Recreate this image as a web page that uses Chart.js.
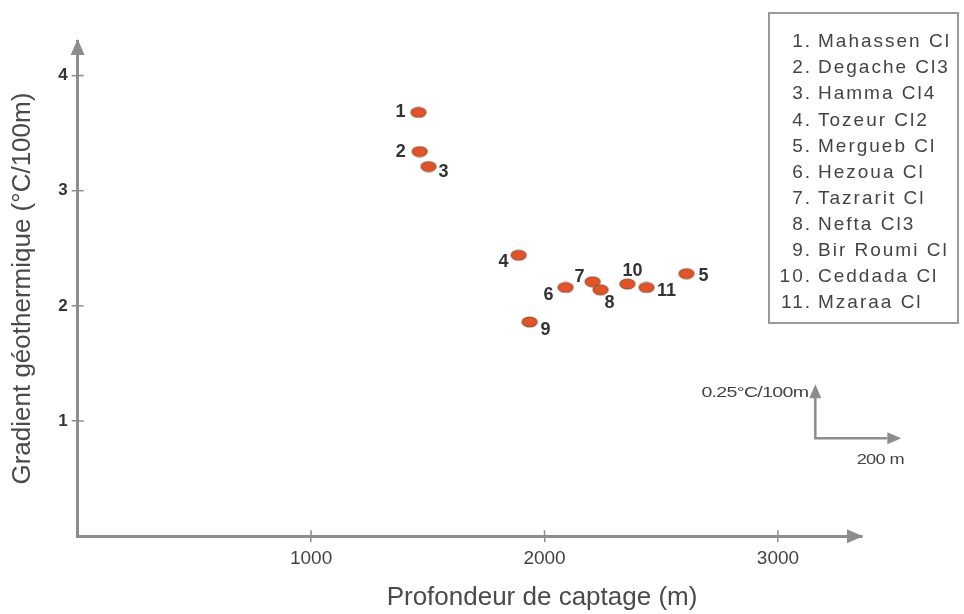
<!DOCTYPE html>
<html>
<head>
<meta charset="utf-8">
<script src="https://cdn.jsdelivr.net/npm/chart.js@4"></script>
<style>
  html, body { margin: 0; padding: 0; background: #fff; }
  #wrap { width: 964px; height: 614px; position: relative; }
</style>
</head>
<body>
<div id="wrap"><canvas id="chart"></canvas></div>
<script>
// Forages : profondeur de captage (m) et gradient géothermique (°C/100m)
const wellNumbers = ['1', '2', '3', '4', '5', '6', '7', '8', '9', '10', '11'];
const wellNames = ['Mahassen Cl', 'Degache Cl3', 'Hamma Cl4', 'Tozeur Cl2', 'Mergueb Cl',
  'Hezoua Cl', 'Tazrarit Cl', 'Nefta Cl3', 'Bir Roumi Cl', 'Ceddada Cl', 'Mzaraa Cl'];
const depths = [1460, 1465, 1503, 1889, 2608, 2090, 2206, 2240, 1936, 2355, 2437];
const gradients = [3.68, 3.34, 3.21, 2.44, 2.28, 2.16, 2.21, 2.14, 1.86, 2.19, 2.16];

const xTicks = [1000, 2000, 3000];
const yTicks = [1, 2, 3, 4];

// position of each number relative to its point (px)
const labelOffsets = [[-18, 0], [-19, 0], [15, 6], [-15, 7], [17, 2], [-17, 8],
  [-13, -5], [9, 13], [16, 8], [5, -13], [20, 4]];

const axisGrey = '#8d8d8d';
const font = '"Liberation Sans", Arial, sans-serif';

// elliptic marker
const marker = document.createElement('canvas');
marker.width = 18; marker.height = 12;
(function () {
  const c = marker.getContext('2d');
  c.beginPath();
  c.ellipse(9, 6, 7.5, 4.8, 0, 0, Math.PI * 2);
  c.fillStyle = '#e4522a';
  c.fill();
  c.lineWidth = 1.2;
  c.strokeStyle = '#a0502e';
  c.stroke();
})();

function stretchedText(ctx, text, x, y, sx, align) {
  ctx.save();
  ctx.translate(x, y);
  ctx.scale(sx, 1);
  ctx.textAlign = align;
  ctx.fillText(text, 0, 0);
  ctx.restore();
}

const decorPlugin = {
  id: 'decor',
  afterDraw(chart) {
    const { ctx, chartArea: a, scales } = chart;
    ctx.save();

    // arrow heads on the axes
    ctx.fillStyle = axisGrey;
    ctx.beginPath();
    ctx.moveTo(a.left, a.top - 2);
    ctx.lineTo(a.left - 7, a.top + 14);
    ctx.lineTo(a.left + 7, a.top + 14);
    ctx.closePath();
    ctx.fill();
    ctx.beginPath();
    ctx.moveTo(a.right + 1, a.bottom);
    ctx.lineTo(a.right - 15, a.bottom - 7);
    ctx.lineTo(a.right - 15, a.bottom + 7);
    ctx.closePath();
    ctx.fill();

    // inner half of tick marks
    ctx.strokeStyle = axisGrey;
    ctx.lineWidth = 1.5;
    xTicks.forEach(v => {
      const x = scales.x.getPixelForValue(v);
      ctx.beginPath(); ctx.moveTo(x, a.bottom); ctx.lineTo(x, a.bottom - 6); ctx.stroke();
    });
    yTicks.forEach(v => {
      const y = scales.y.getPixelForValue(v);
      ctx.beginPath(); ctx.moveTo(a.left, y); ctx.lineTo(a.left + 6, y); ctx.stroke();
    });

    // x axis title (sits right of the axis centre in the original)
    ctx.font = '26px ' + font;
    ctx.fillStyle = '#4a4a4a';
    ctx.textAlign = 'center';
    ctx.textBaseline = 'middle';
    ctx.fillText('Profondeur de captage (m)', 542, 598);

    // point numbers
    ctx.font = 'bold 18px ' + font;
    ctx.fillStyle = '#333';
    const meta = chart.getDatasetMeta(0);
    meta.data.forEach((pt, i) => {
      ctx.fillText(wellNumbers[i], pt.x + labelOffsets[i][0], pt.y + labelOffsets[i][1]);
    });

    // legend box
    ctx.strokeStyle = '#9a9a9a';
    ctx.lineWidth = 2;
    ctx.strokeRect(769, 13, 189, 310);
    ctx.font = '19px ' + font;
    ctx.fillStyle = '#444';
    ctx.letterSpacing = '2px';
    wellNames.forEach((n, i) => {
      const y = 42 + i * 26.1;
      ctx.textAlign = 'right';
      ctx.fillText(wellNumbers[i] + '.', 812, y);
      ctx.textAlign = 'left';
      ctx.fillText(n, 818, y);
    });

    // scale key
    const cx = scales.x.getPixelForValue(3160);
    const cy = scales.y.getPixelForValue(0.85);
    ctx.strokeStyle = axisGrey;
    ctx.fillStyle = axisGrey;
    ctx.lineWidth = 2.5;
    ctx.beginPath();
    ctx.moveTo(cx, cy - 42); ctx.lineTo(cx, cy); ctx.lineTo(cx + 72, cy);
    ctx.stroke();
    ctx.beginPath();
    ctx.moveTo(cx, cy - 54); ctx.lineTo(cx - 6, cy - 40); ctx.lineTo(cx + 6, cy - 40);
    ctx.closePath(); ctx.fill();
    ctx.beginPath();
    ctx.moveTo(cx + 86, cy); ctx.lineTo(cx + 72, cy - 6); ctx.lineTo(cx + 72, cy + 6);
    ctx.closePath(); ctx.fill();
    ctx.font = '14px ' + font;
    ctx.fillStyle = '#444';
    ctx.letterSpacing = '-0.5px';
    stretchedText(ctx, '0.25°C/100m', cx - 7, cy - 45, 1.4, 'right');
    stretchedText(ctx, '200 m', cx + 65, cy + 22, 1.3, 'center');
    ctx.restore();
  }
};

new Chart(document.getElementById('chart'), {
  type: 'scatter',
  data: {
    datasets: [{
      data: depths.map((d, i) => ({ x: d, y: gradients[i] })),
      pointStyle: marker,
      pointRadius: 8,
      pointHoverRadius: 8
    }]
  },
  options: {
    responsive: true,
    maintainAspectRatio: false,
    animation: false,
    layout: { padding: { top: 41, right: 102, bottom: 39, left: 2 } },
    plugins: { legend: { display: false }, tooltip: { enabled: false } },
    scales: {
      x: {
        type: 'linear',
        min: 0,
        max: 3360,
        afterBuildTicks: axis => { axis.ticks = xTicks.map(v => ({ value: v })); },
        border: { display: true, color: axisGrey, width: 3 },
        grid: { drawOnChartArea: false, drawTicks: true, tickLength: 6, color: axisGrey, lineWidth: 1.5 },
        ticks: {
          padding: 5,
          color: '#444',
          font: { family: font, size: 19 },
          callback: v => String(v)
        }
      },
      y: {
        type: 'linear',
        min: 0,
        max: 4.3,
        afterBuildTicks: axis => { axis.ticks = yTicks.map(v => ({ value: v })); },
        border: { display: true, color: axisGrey, width: 3 },
        grid: { drawOnChartArea: false, drawTicks: true, tickLength: 6, color: axisGrey, lineWidth: 1.5 },
        ticks: {
          padding: 4,
          color: '#333',
          font: { family: font, size: 17, weight: 'bold' }
        },
        title: {
          display: true,
          text: 'Gradient géothermique (°C/100m)',
          color: '#4a4a4a',
          font: { family: font, size: 26 },
          padding: { top: 5, bottom: 16 }
        }
      }
    }
  },
  plugins: [decorPlugin]
});
</script>
</body>
</html>
